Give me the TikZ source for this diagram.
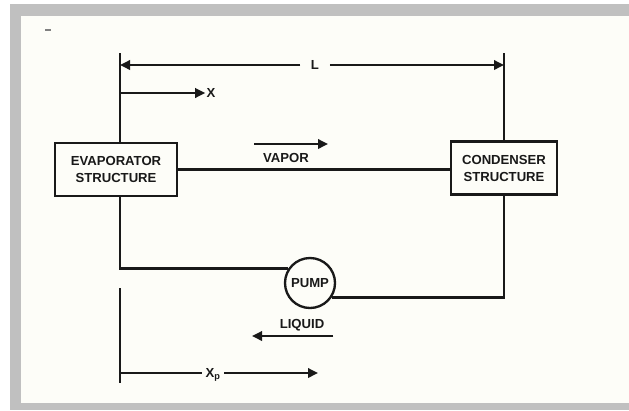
\documentclass[tikz,border=0pt]{standalone}
\usepackage{fontspec}
\setmainfont{Liberation Sans}
\usetikzlibrary{arrows.meta}
\definecolor{frame}{RGB}{192,192,192}
\definecolor{paper}{RGB}{253,253,248}
\definecolor{ink}{RGB}{25,25,25}

\begin{document}
\begin{tikzpicture}[
	x={(0.03cm,0)}, y={(0,-0.03cm)},
	font=\fontsize{11.2}{14.5}\selectfont\bfseries,
	every node/.style={text=ink},
	line/.style={line width=2pt, draw=ink},
	box/.style={draw=ink, line width=2.2pt, align=center, inner sep=0pt, minimum height=1.59cm, fill=paper},
	arr/.style={line width=2pt, draw=ink, fill=ink, -{Triangle[length=0.3cm, width=0.28cm]}},
	lab/.style={inner sep=1pt}
]
% page and frame
\useasboundingbox (0,0) rectangle (629,410);
\fill[white] (0,0) rectangle (629,410);
\fill[frame] (10,4) rectangle (629,410);
\fill[paper] (21,16) rectangle (629,403);
\draw[line width=1pt, gray] (45,30) -- (51,30);

% boxes
\node[box, minimum width=3.66cm] (evap) at (116,169.5) {EVAPORATOR\\STRUCTURE};
\node[box, minimum width=3.18cm] (cond) at (504,168) {CONDENSER\\STRUCTURE};
\node[draw=ink, circle, line width=2pt, minimum size=1.5cm, inner sep=0pt, fill=paper] (pump) at (310,283) {PUMP};

% loop
\coordinate (lt) at (120,53);
\coordinate (rt) at (504,53);
\draw[line] (lt) -- (lt |- evap.north);
\draw[line] (rt) -- (rt |- cond.north);
\draw[line] (evap.east) -- (evap.east -| cond.west);
\draw[line] (lt |- evap.south) |- (pump.146);
\draw[line] (pump.-34) -| (rt |- cond.south);

% length L
\node[lab, inner xsep=9pt] (L) at (315,65) {L};
\draw[arr] (L.west) -- (lt |- L);
\draw[arr] (L.east) -- (rt |- L);

% x
\node[lab] (xlab) at (211,93) {X};
\draw[arr] (lt |- xlab) -- (xlab.west);

% vapor
\node[lab] (vap) at (286,158) {VAPOR};
\coordinate (v1) at (254,144);
\coordinate (v2) at (328,144);
\draw[arr] (v1) -- (v2);

% liquid
\node[lab] (liq) at (302,325) {LIQUID};
\coordinate (q1) at (333,336);
\coordinate (q2) at (252,336);
\draw[arr] (q1) -- (q2);

% x_p
\coordinate (pb) at (120,288);
\coordinate (pe) at (120,383);
\coordinate (pt) at (318,373);
\draw[line] (pb) -- (pe);
\node[lab, inner xsep=3pt] (xp) at (213,375) {X\textsubscript{p}};
\draw[line] (pb |- pt) -- (xp.west |- pt);
\draw[arr] (xp.east |- pt) -- (pt);
\end{tikzpicture}
\end{document}
